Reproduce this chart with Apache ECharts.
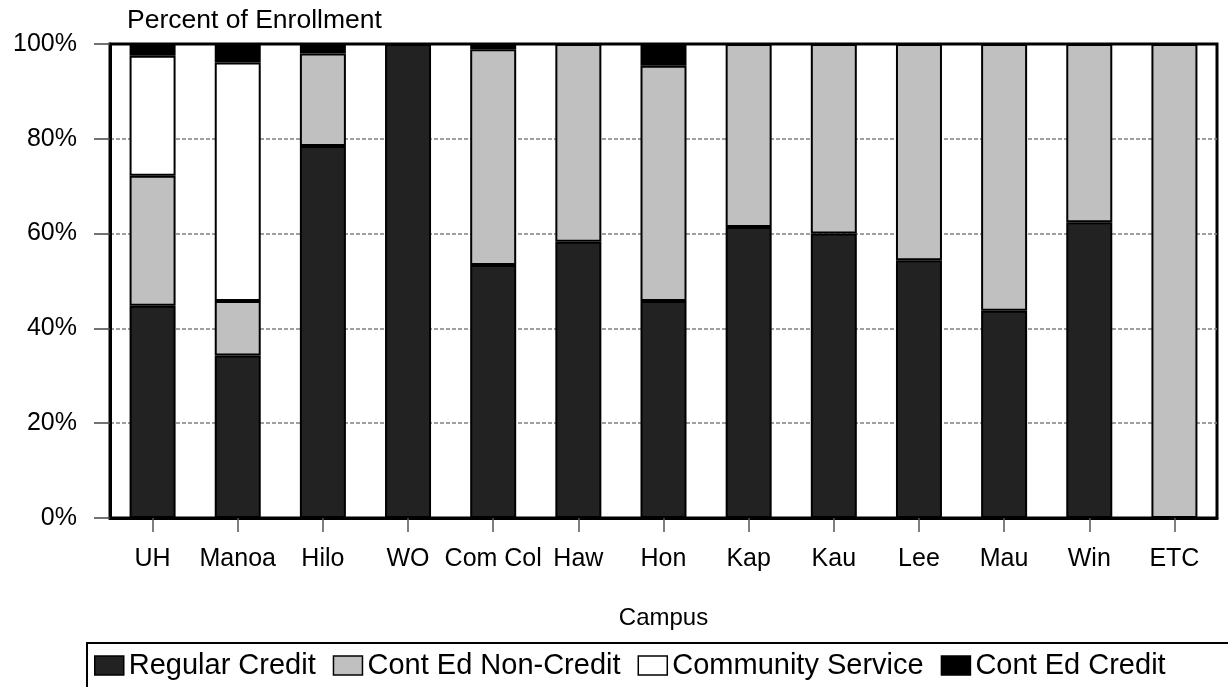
<!DOCTYPE html>
<html>
<head>
<meta charset="utf-8">
<script src="https://cdn.jsdelivr.net/npm/echarts@6/dist/echarts.min.js"></script>
<style>
html,body{margin:0;padding:0;background:#fff;}
#chart{width:1228px;height:687px;}
</style>
</head>
<body>
<div id="chart"></div>
<script>
var categories = ['UH','Manoa','Hilo','WO','Com Col','Haw','Hon','Kap','Kau','Lee','Mau','Win','ETC'];
var regularCredit    = [44.8, 34.3, 78.5, 100, 53.4, 58.3, 45.8, 61.4, 60.0, 54.4, 43.7, 62.4, 0];
var contEdNonCredit  = [27.4, 11.5, 19.5, 0, 45.5, 41.7, 49.6, 38.6, 40.0, 45.6, 56.3, 37.6, 100];
var communityService = [25.3, 50.3, 0, 0, 0, 0, 0, 0, 0, 0, 0, 0, 0];
var contEdCredit     = [2.5, 3.9, 2.0, 0, 1.1, 0, 4.6, 0, 0, 0, 0, 0, 0];
var yTicks = [0, 20, 40, 60, 80, 100];

var FONT = 'Liberation Sans, Arial, sans-serif';
function clean(arr){ return arr.map(function(v){ return v === 0 ? '-' : v; }); }
function mk(name, data, color){
  return {
    name: name, type: 'bar', stack: 'total', barWidth: 46,
    data: clean(data),
    itemStyle: { color: color, borderColor: '#000', borderWidth: 2 },
    emphasis: { disabled: true }
  };
}

var chart = echarts.init(document.getElementById('chart'), null, {renderer: 'canvas'});
chart.setOption({
  animation: false,
  backgroundColor: '#fff',
  textStyle: { fontFamily: FONT, color: '#000' },
  title: {
    text: 'Percent of Enrollment', left: 127, top: 7, padding: 0,
    textStyle: { fontFamily: FONT, fontSize: 26.5, fontWeight: 'normal', color: '#000' }
  },
  grid: {
    left: 110, right: 11, top: 44, bottom: 169,
    show: true, borderColor: '#000', borderWidth: 3, backgroundColor: 'transparent'
  },
  legend: {
    left: 94, top: 651, padding: 0,
    itemWidth: 29, itemHeight: 19, itemGap: 17,
    selectedMode: false, icon: 'rect',
    textStyle: { fontFamily: FONT, fontSize: 29, color: '#000' },
    itemStyle: { borderColor: '#000', borderWidth: 1.5 },
    data: ['Regular Credit','Cont Ed Non-Credit','Community Service','Cont Ed Credit']
  },
  graphic: [{
    type: 'rect', left: 86, top: 642, z: -1,
    shape: { width: 1200, height: 60 },
    style: { fill: '#fff', stroke: '#000', lineWidth: 2 }
  }],
  xAxis: {
    type: 'category', data: categories,
    name: 'Campus', nameLocation: 'middle', nameGap: 88,
    nameTextStyle: { fontFamily: FONT, fontSize: 24, color: '#000' },
    axisLine: { show: true, lineStyle: { color: '#000', width: 3 } },
    axisTick: { show: true, alignWithLabel: true, length: 14, lineStyle: { color: '#555', width: 1.5 } },
    axisLabel: { fontFamily: FONT, fontSize: 25, color: '#000', margin: 29, interval: 0 },
    splitLine: { show: false }
  },
  yAxis: {
    type: 'value', min: yTicks[0], max: yTicks[yTicks.length-1], interval: 20,
    axisLine: { show: true, lineStyle: { color: '#000', width: 3 } },
    axisTick: { show: true, length: 16, lineStyle: { color: '#444', width: 1.5 } },
    axisLabel: { fontFamily: FONT, fontSize: 25, color: '#000', margin: 33, formatter: '{value}%' },
    splitLine: { show: true, showMaxLine: false, showMinLine: false, lineStyle: { color: '#808080', width: 1.5, type: [4, 2] } }
  },
  series: [
    mk('Regular Credit', regularCredit, '#222222'),
    mk('Cont Ed Non-Credit', contEdNonCredit, '#c0c0c0'),
    mk('Community Service', communityService, '#ffffff'),
    mk('Cont Ed Credit', contEdCredit, '#000000')
  ]
});
</script>
</body>
</html>
